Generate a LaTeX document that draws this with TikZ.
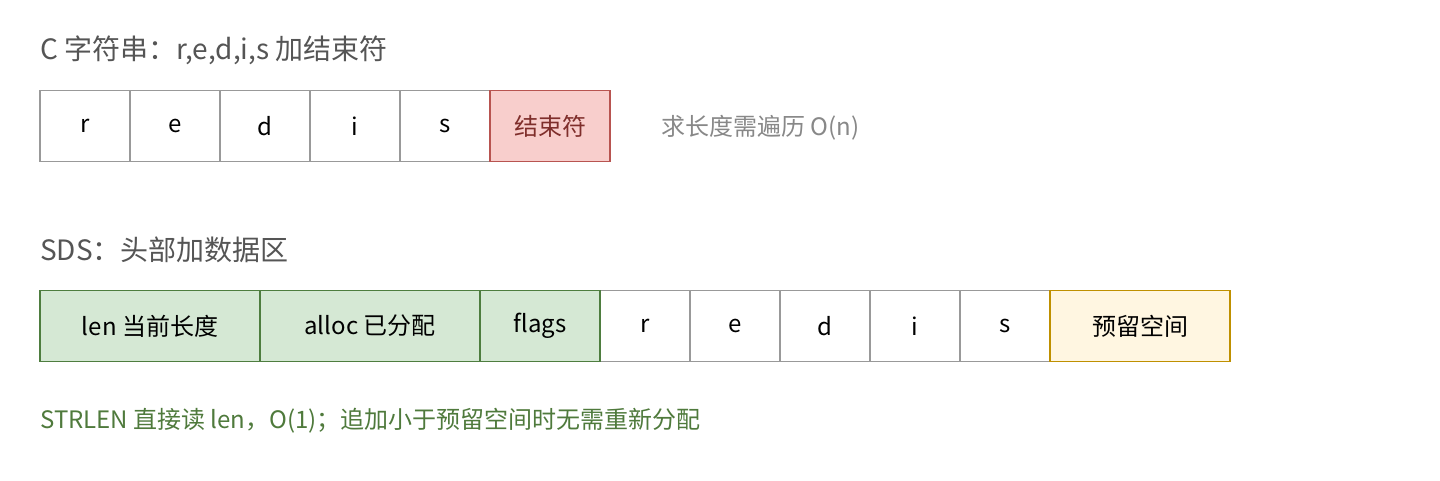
\documentclass[tikz,border=0pt]{standalone}
\usepackage{fontspec}
\setmainfont{Noto Sans CJK SC}
\begin{document}
\begin{tikzpicture}[x=1pt,y=-1pt,
  cell/.style={draw=black!40, line width=1.3pt, fill=white, minimum height=71pt, inner sep=0pt, font=\fontsize{24}{28}\selectfont, text=black},
  redc/.style={cell, draw=redline, fill=redfill, text=redtext},
  greenc/.style={cell, draw=greenline, fill=greenfill},
  yellowc/.style={cell, draw=yellowline, fill=yellowfill},
  title/.style={anchor=west, inner sep=0pt, font=\fontsize{28}{32}\selectfont, text=titlegray},
  note/.style={anchor=west, inner sep=0pt, font=\fontsize{24}{28}\selectfont}]
\definecolor{redline}{HTML}{B85450}
\definecolor{redfill}{HTML}{F8CECC}
\definecolor{redtext}{HTML}{7F2E2B}
\definecolor{greenline}{HTML}{4E7D3F}
\definecolor{greenfill}{HTML}{D5E8D4}
\definecolor{yellowline}{HTML}{BF9000}
\definecolor{yellowfill}{HTML}{FFF6E1}
\definecolor{titlegray}{HTML}{555555}
\definecolor{notegray}{HTML}{888888}
\definecolor{notegreen}{HTML}{4F7A3C}
\useasboundingbox (0,0) rectangle (1440,480);
\fill[white] (0,0) rectangle (1440,480);
% row 1
\node[title] (t1) at (40,50) {C 字符串：r,e,d,i,s 加结束符};
\node[cell, minimum width=90pt] (c1) at (85,126) {r};
\node[cell, minimum width=90pt] (c2) at (175,126) {e};
\node[cell, minimum width=90pt] (c3) at (265,126) {d};
\node[cell, minimum width=90pt] (c4) at (355,126) {i};
\node[cell, minimum width=90pt] (c5) at (445,126) {s};
\node[redc, minimum width=120pt] (c6) at (550,126) {结束符};
\node[note, text=notegray] (n1) at (661,128) {求长度需遍历 O(n)};
% row 2
\node[title] (t2) at (40,250) {SDS：头部加数据区};
\node[cell, minimum width=90pt] (s4) at (645,326) {r};
\node[cell, minimum width=90pt] (s5) at (735,326) {e};
\node[cell, minimum width=90pt] (s6) at (825,326) {d};
\node[cell, minimum width=90pt] (s7) at (915,326) {i};
\node[cell, minimum width=90pt] (s8) at (1005,326) {s};
\node[greenc, minimum width=220pt] (s1) at (150,326) {len 当前长度};
\node[greenc, minimum width=220pt] (s2) at (370,326) {alloc 已分配};
\node[greenc, minimum width=120pt] (s3) at (540,326) {flags};
\node[yellowc, minimum width=180pt] (s9) at (1140,326) {预留空间};
\node[note, text=notegreen] (n2) at (40,421) {STRLEN 直接读 len，O(1)；追加小于预留空间时无需重新分配};
\end{tikzpicture}
\end{document}
